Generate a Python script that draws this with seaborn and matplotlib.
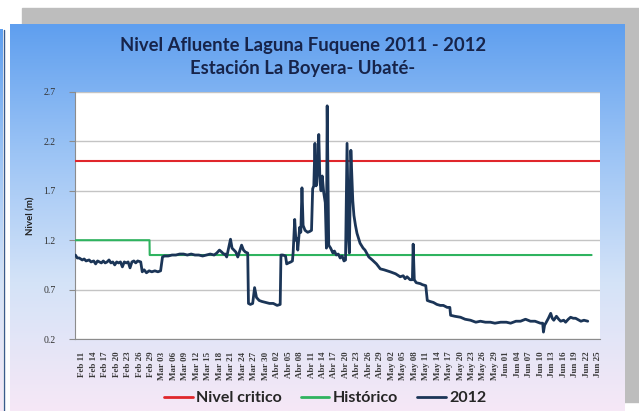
import numpy as np
import pandas as pd
import matplotlib
matplotlib.use("Agg")
import matplotlib.pyplot as plt
from matplotlib.patches import Rectangle
from matplotlib.lines import Line2D
import seaborn as sns

# ==========================================
# DATOS
# ==========================================
fecha_base = pd.Timestamp("2012-02-11")

# dias desde Feb 11 y nivel (m) de la serie 2012
dias_2012 = [
    -1.8, -1.3, -0.8, 0.0, 0.5, 1.0, 1.8, 2.3, 3.0, 3.5, 4.0, 4.5, 5.0, 5.5,
    6.0, 6.5, 7.0, 7.5, 8.0, 8.5, 9.0, 9.5, 10.0, 10.5, 11.0, 11.5, 12.0, 12.5,
    13.0, 13.5, 14.0, 14.5, 15.3, 15.7, 16.2, 16.8, 17.5, 18.2, 19.0, 19.8,
    20.5, 21.0, 21.5, 22.5, 23.5, 24.5, 25.5, 26.5, 27.5, 28.5, 29.5, 30.5,
    31.5, 32.5, 33.5, 34.5, 35.2, 35.9, 36.5, 37.0, 37.4, 37.8, 38.3, 38.8,
    39.2, 39.7, 40.2, 40.7, 41.2, 41.7, 42.2, 42.7, 43.3, 43.5, 44.0, 44.6,
    45.1, 45.6, 46.3, 47.0, 48.0, 49.0, 50.0, 51.0, 51.8, 52.0, 52.5, 53.2,
    53.5, 54.0, 54.6, 55.0, 55.2, 55.6, 55.9, 56.2, 56.4, 56.9, 57.2, 57.5,
    57.8, 58.3, 59.0, 59.6, 60.0, 60.3, 60.6, 60.9, 61.2, 61.6, 61.9, 62.2,
    62.5, 62.8, 63.2, 63.6, 63.9, 64.1, 64.5, 65.0, 65.6, 66.0, 66.5, 67.0,
    67.5, 68.0, 68.5, 68.9, 69.3, 69.7, 69.9, 70.3, 70.8, 71.1, 71.5, 71.9,
    72.7, 73.5, 74.0, 75.0, 75.9, 77.0, 78.0, 79.0, 80.6, 82.0, 83.2, 84.0,
    84.5, 85.0, 85.8, 86.4, 86.6, 86.9, 87.4, 88.5, 89.0, 89.9, 90.3, 91.0,
    91.9, 92.8, 93.7, 94.5, 95.5, 96.2, 96.4, 97.5, 99.0, 100.2, 101.6, 103.0,
    104.2, 105.5, 106.8, 108.0, 109.5, 111.0, 112.1, 113.5, 114.7, 116.0,
    117.3, 118.5, 119.9, 120.5, 120.7, 121.0, 121.3, 122.0, 122.6, 123.0,
    123.4, 124.1, 124.7, 125.2, 126.0, 126.5, 127.2, 127.8, 128.5, 129.1,
    130.0, 130.5, 131.3, 132.3,
]
nivel_2012 = [
    1.05, 1.02, 1.02, 1.00, 1.01, 0.99, 1.00, 0.98, 0.99, 0.96, 0.99, 0.98, 0.97, 0.99,
    0.97, 0.98, 1.00, 0.97, 0.98, 0.95, 0.98, 0.97, 0.98, 0.93, 0.98, 0.97, 0.98, 0.92,
    0.98, 0.99, 0.97, 0.99, 0.98, 0.88, 0.90, 0.87, 0.89, 0.88, 0.89, 0.88,
    0.89, 1.03, 1.04, 1.04, 1.05, 1.05, 1.06, 1.06, 1.05, 1.06, 1.05, 1.05,
    1.04, 1.05, 1.06, 1.05, 1.07, 1.10, 1.08, 1.06, 1.06, 1.03, 1.12, 1.21,
    1.12, 1.10, 1.08, 1.03, 1.09, 1.15, 1.10, 1.08, 1.07, 0.56, 0.55, 0.56,
    0.72, 0.62, 0.59, 0.58, 0.57, 0.56, 0.56, 0.54, 0.55, 1.05, 1.05, 1.04,
    0.96, 0.97, 0.98, 0.99, 1.08, 1.41, 1.20, 1.22, 1.10, 1.33, 1.28, 1.73,
    1.35, 1.30, 1.28, 1.29, 1.30, 1.72, 1.75, 2.18, 1.75, 1.92, 2.27, 1.80,
    1.70, 1.85, 1.68, 1.58, 1.12, 2.56, 1.15, 1.12, 1.07, 1.09, 1.05, 1.06,
    1.02, 1.04, 0.99, 1.00, 2.18, 1.20, 1.07, 2.11, 1.60, 1.45, 1.35, 1.27,
    1.17, 1.12, 1.10, 1.03, 1.00, 0.96, 0.91, 0.90, 0.88, 0.86, 0.83, 0.84,
    0.81, 0.83, 0.80, 0.80, 1.16, 0.80, 0.77, 0.76, 0.75, 0.74, 0.59, 0.58,
    0.57, 0.55, 0.54, 0.54, 0.52, 0.52, 0.44, 0.43, 0.42, 0.40, 0.39, 0.37,
    0.38, 0.37, 0.37, 0.36, 0.37, 0.37, 0.36, 0.38, 0.38, 0.40,
    0.38, 0.38, 0.36, 0.36, 0.27, 0.34, 0.36, 0.41, 0.46, 0.41,
    0.39, 0.43, 0.40, 0.38, 0.39, 0.37, 0.40, 0.42, 0.41, 0.41,
    0.39, 0.38, 0.39, 0.38,
]

# nivel historico (escalon) y nivel critico
dias_historico = [-1.9, 17.6, 17.65, 133.3]
nivel_historico = [1.2, 1.2, 1.05, 1.05]
dias_critico = [-1.9, 135.5]
nivel_critico = [2.0, 2.0]

meses = {2: "Feb", 3: "Mar", 4: "Abr", 5: "May", 6: "Jun"}
yticks = [0.2, 0.7, 1.2, 1.7, 2.2, 2.7]

titulo = "Nivel Afluente Laguna Fuquene 2011 - 2012\nEstación La Boyera- Ubaté-"
series_legend = ["Nivel critico", "Histórico", "2012"]

# colores
c_rojo = "#e0262b"
c_verde = "#2fb35f"
c_azul = "#1b3557"


def a_fecha(dias):
    return fecha_base + pd.to_timedelta(np.array(dias), unit="D")


# ==========================================
# FIGURA
# ==========================================
sns.set_theme(style="white")
plt.rcParams["font.family"] = ["Lato", "DejaVu Sans"]

W, H = 639, 411
fig = plt.figure(figsize=(W / 100, H / 100), dpi=100, facecolor="white")

# fondo: marco gris + area del grafico con degradado
bg = fig.add_axes([0, 0, 1, 1])
bg.add_patch(Rectangle((22, 8), W - 22, 394, color="#bdbdbd", zorder=0))
grad = np.linspace(0, 1, 256)[:, None]
cmap = matplotlib.colors.LinearSegmentedColormap.from_list(
    "fondo", ["#5f9fef", "#9cc4f5", "#d4e3f8", "#f6e8f6"])
bg.imshow(grad, extent=(10, 625, 411, 25), cmap=cmap, aspect="auto", zorder=1)
bg.imshow(grad, extent=(0, 3, 411, 30), cmap=cmap, aspect="auto", zorder=1)
bg.plot([3.5, 3.5], [30, 411], color="#3a5a8a", lw=1, zorder=2)
bg.set_xlim(0, W)
bg.set_ylim(H, 0)
bg.axis("off")

# area de trazado
ax = fig.add_axes([75 / W, 1 - 339 / H, 525 / W, 247 / H])
ax.set_facecolor("white")

sns.lineplot(x=a_fecha(dias_critico), y=nivel_critico, ax=ax, color=c_rojo,
             lw=1.5, estimator=None, sort=False, zorder=3)
sns.lineplot(x=a_fecha(dias_historico), y=nivel_historico, ax=ax, color=c_verde,
             lw=1.5, estimator=None, sort=False, zorder=3)
sns.lineplot(x=a_fecha(dias_2012), y=nivel_2012, ax=ax, color=c_azul,
             lw=2.0, estimator=None, sort=False, zorder=4)

ax.set_ylim(0.2, 2.7)
ax.set_yticks(yticks)
ax.set_yticklabels([f"{v:.1f}" for v in yticks], fontfamily="Liberation Serif",
                   fontsize=7, color="#333333")
ax.yaxis.grid(True, color="#c4c4c4", lw=1)
ax.set_axisbelow(True)

ax.set_xlim(a_fecha([-1.9])[0], a_fecha([135.5])[0])
fechas_ticks = pd.date_range("2012-02-11", "2012-06-25", freq="3D")
ax.set_xticks(fechas_ticks)
ax.set_xticklabels([f"{meses[f.month]} {f.day:02d}" for f in fechas_ticks],
                   rotation=90, fontfamily="Liberation Serif", fontweight="bold",
                   fontsize=6.5, color="#3a3a3a")
ax.set_xticks(a_fecha(np.arange(-1.9, 136, 3)), minor=True)
ax.tick_params(axis="x", which="major", length=0, pad=9)
ax.tick_params(axis="x", which="minor", length=4, color="#8c8c8c", width=0.8)
ax.tick_params(axis="y", which="major", length=4, color="#8c8c8c", width=0.8,
               left=True, pad=10)

for lado in ["top", "right"]:
    ax.spines[lado].set_visible(False)
for lado in ["left", "bottom"]:
    ax.spines[lado].set_color("#8c8c8c")
    ax.spines[lado].set_linewidth(0.8)

ax.set_xlabel("")
ax.set_ylabel("Nivel (m)", fontsize=7, fontweight="bold", color="#222222")
ax.yaxis.set_label_coords(-0.076, 0.5)

# titulo
fig.text(303 / W, 1 - 57 / H, titulo, ha="center", va="center", fontsize=13.3,
         fontweight="bold", color="#17244a", linespacing=1.42)

# leyenda
handles = [Line2D([], [], color=c, lw=2.0) for c in [c_rojo, c_verde, c_azul]]
fig.legend(handles, series_legend, loc="center", bbox_to_anchor=(325 / W, 1 - 398 / H),
           ncol=3, frameon=False, handlelength=1.8, handletextpad=0.2,
           columnspacing=1.2, prop={"family": "Lato", "weight": "bold", "size": 11.5})

fig.savefig("out.png", dpi=100, facecolor=fig.get_facecolor())
